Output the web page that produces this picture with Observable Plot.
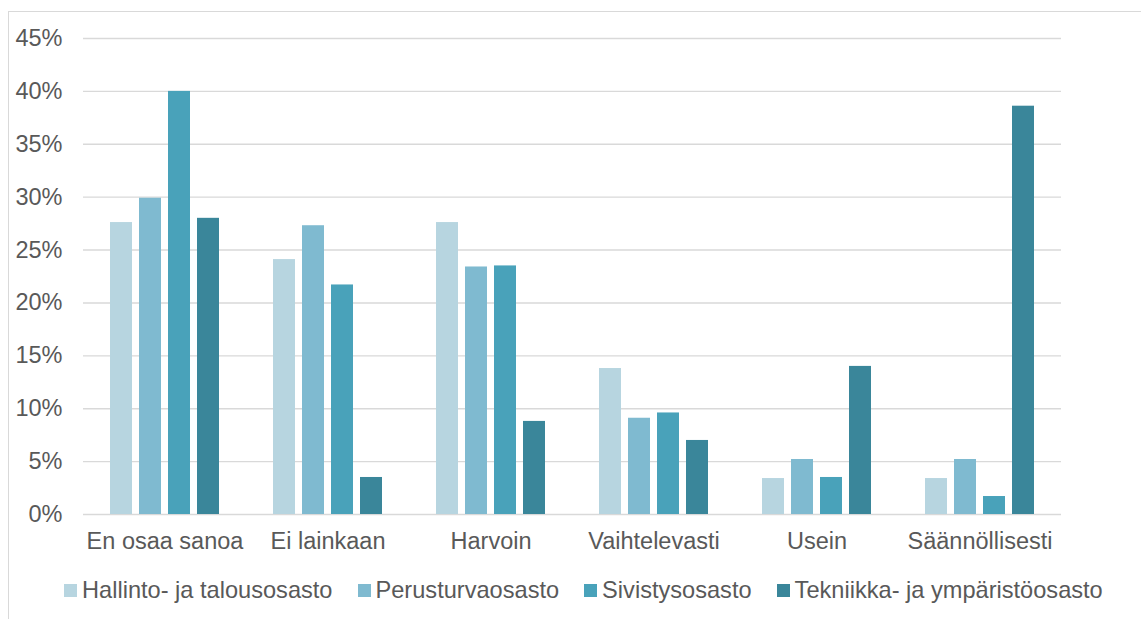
<!DOCTYPE html>
<html>
<head>
<meta charset="utf-8">
<script src="https://cdn.jsdelivr.net/npm/d3@7"></script>
<script src="https://cdn.jsdelivr.net/npm/@observablehq/plot@0.6"></script>
<style>
  html, body { margin: 0; padding: 0; background: #fff; width: 1141px; height: 619px; overflow: hidden; }
  #frame { position: absolute; left: 8px; top: 11px; width: 1200px; height: 700px; border-left: 1px solid #d9d9d9; border-top: 1px solid #d9d9d9; }
  #chart { position: absolute; left: 0; top: 0; }
  #legend { position: absolute; left: 64px; top: 577px; display: flex; align-items: center; font-family: "Liberation Sans", Arial, sans-serif; font-size: 23.6px; color: #595959; white-space: nowrap; }
  .item { display: flex; align-items: center; margin-right: 25px; }
  .sw { width: 13px; height: 13px; margin-right: 5px; display: inline-block; }
</style>
</head>
<body>
<div id="frame"></div>
<div id="chart"></div>
<div id="legend"></div>
<script>
const categories = ["En osaa sanoa", "Ei lainkaan", "Harvoin", "Vaihtelevasti", "Usein", "Säännöllisesti"];
const series = ["Hallinto- ja talousosasto", "Perusturvaosasto", "Sivistysosasto", "Tekniikka- ja ympäristöosasto"];
const hallinto   = [27.6, 24.1, 27.6, 13.8, 3.4, 3.4];
const perusturva = [29.9, 27.3, 23.4, 9.1, 5.2, 5.2];
const sivistys   = [40.0, 21.7, 23.5, 9.6, 3.5, 1.7];
const tekniikka  = [28.0, 3.5, 8.8, 7.0, 14.0, 38.6];
const colors = ["#b7d5e0", "#7fbad0", "#49a2ba", "#3a869a"];
const yTicks = [0, 5, 10, 15, 20, 25, 30, 35, 40, 45];

const seriesValues = [hallinto, perusturva, sivistys, tekniikka];
const data = [];
categories.forEach((c, i) => {
  series.forEach((s, j) => {
    data.push({category: c, series: s, value: seriesValues[j][i]});
  });
});

const chart = Plot.plot({
  width: 1141,
  height: 560,
  marginLeft: 82,
  marginRight: 80,
  marginTop: 38,
  marginBottom: 46,
  style: {fontFamily: "'Liberation Sans', Arial, sans-serif", fontSize: "23.5px", color: "#595959", background: "transparent", overflow: "visible"},
  fx: {domain: categories, padding: 0, label: null, axis: "bottom", tickSize: 0, tickPadding: 18},
  x: {domain: series, paddingInner: 0.233, paddingOuter: 0.84, axis: null},
  y: {domain: [0, 45], ticks: yTicks, tickFormat: d => d + "%", tickSize: 0, tickPadding: 21, label: null},
  color: {domain: series, range: colors},
  marks: [
    Plot.ruleY(yTicks, {y: d => d, stroke: "#d9d9d9", strokeWidth: 1.4}),
    Plot.barY(data, {fx: "category", x: "series", y: "value", fill: "series"})
  ]
});
document.getElementById("chart").appendChild(chart);

const legend = document.getElementById("legend");
series.forEach((s, j) => {
  const item = document.createElement("div");
  item.className = "item";
  const sw = document.createElement("span");
  sw.className = "sw";
  sw.style.background = colors[j];
  const t = document.createElement("span");
  t.textContent = s;
  item.appendChild(sw);
  item.appendChild(t);
  legend.appendChild(item);
});
</script>
</body>
</html>
